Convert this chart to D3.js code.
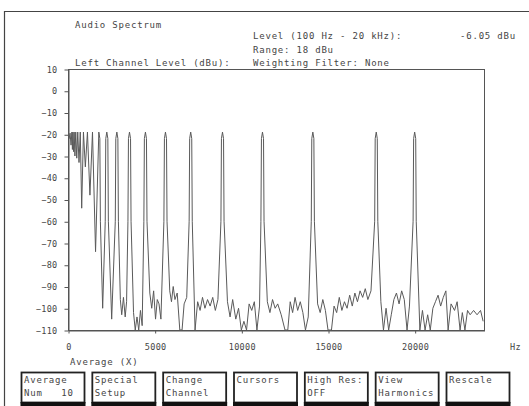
<!DOCTYPE html>
<html>
<head>
<meta charset="utf-8">
<script src="https://cdn.jsdelivr.net/npm/d3@7"></script>
<style>
  html, body { margin: 0; padding: 0; background: #fff; }
  svg { display: block; }
  text { font-family: "DejaVu Sans Mono", "Liberation Mono", monospace; fill: #454545; white-space: pre; }
</style>
</head>
<body>
<svg id="chart" width="529" height="406"></svg>
<script>
// Spectrum trace: frequency (Hz) and level (dBu)
const traceHz = [
  0, 60, 120, 175, 224, 255, 282, 320, 355, 400, 447, 505, 562, 635, 708, 790, 891, 1000, 1122, 1265, 1413, 1590,
  1778, 1838, 1868, 2000, 2149, 2179,
  2239, 2299, 2329, 2520, 2728, 2758,
  2818, 2878, 2908, 3020, 3100, 3200, 3300, 3380, 3458, 3488,
  3548, 3608, 3638, 3780, 3880, 3980, 4080, 4180, 4280, 4377, 4407,
  4467, 4527, 4557, 4720, 4830, 4940, 5050, 5150, 5250, 5360, 5533, 5563,
  5623, 5683, 5713, 5870, 5970, 6070, 6170, 6300, 6450, 6580, 6700, 6850, 6989, 7019,
  7079, 7139, 7169, 7330, 7480, 7620, 7760, 7900, 8050, 8200, 8350, 8500, 8650, 8823, 8853,
  8913, 8973, 9003, 9200, 9350, 9500, 9680, 9840, 10000, 10150, 10300, 10450, 10600, 10750, 10900, 11050, 11130, 11160,
  11220, 11280, 11310, 11500, 11650, 11800, 11950, 12100, 12300, 12520, 12680, 12820, 12960, 13100, 13250, 13400, 13550, 13700, 13860, 14035, 14065,
  14125, 14185, 14215, 14400, 14550, 14700, 14850, 15000, 15200, 15350, 15500, 15650, 15800, 15950, 16100, 16250, 16400, 16550, 16700, 16850, 17000, 17150, 17300, 17480, 17693, 17723,
  17783, 17843, 17873, 18050, 18200, 18350, 18500, 18650, 18800, 18950, 19100, 19250, 19400, 19560, 19700, 19910, 19940,
  20000, 20060, 20090, 20300, 20450, 20600, 20750, 20900, 21050, 21200, 21350, 21500, 21650, 21800, 21930, 22100, 22300, 22450, 22620, 22750, 22900, 23050, 23200, 23400, 23600, 23800, 23950
];
const traceDbu = [
  -18, -22, -19.5, -25, -19, -27, -19, -28, -19, -30, -19, -31, -19, -33, -19, -54, -19, -35, -19, -48, -19, -74,
  -19, -22, -60, -100, -60, -22,
  -19, -22, -60, -105, -60, -22,
  -19, -22, -60, -96, -103, -95, -104, -97, -60, -22,
  -19, -22, -60, -102, -110, -104, -110, -101, -108, -60, -22,
  -19, -22, -60, -93, -100, -92, -105, -96, -98, -105, -60, -22,
  -19, -22, -60, -92, -97, -90, -96, -93, -110, -110, -98, -95, -60, -22,
  -19, -22, -60, -110, -97, -101, -95, -100, -96, -99, -95, -101, -96, -60, -22,
  -19, -22, -60, -97, -104, -96, -105, -100, -110, -106, -110, -98, -101, -97, -110, -99, -60, -22,
  -19, -22, -60, -97, -102, -96, -100, -98, -103, -110, -110, -97, -102, -95, -101, -97, -102, -110, -104, -60, -22,
  -19, -22, -60, -98, -102, -96, -101, -110, -110, -99, -102, -95, -101, -97, -100, -94, -99, -93, -97, -92, -95, -91, -96, -92, -60, -22,
  -19, -22, -60, -97, -110, -100, -110, -103, -96, -93, -98, -92, -96, -110, -99, -60, -22,
  -19, -22, -60, -110, -101, -110, -103, -110, -100, -97, -94, -99, -95, -92, -110, -98, -101, -97, -110, -102, -110, -101, -103, -101, -103, -101, -106
];

// Axis ticks
const yTicks = [10, 0, -10, -20, -30, -40, -50, -60, -70, -80, -90, -100, -110];
const xTicks = [0, 5000, 10000, 15000, 20000];

// Header and footer text
const headerLeft = ["Audio Spectrum", "Left Channel Level (dBu):"];
const headerRight = ["Level (100 Hz - 20 kHz):", "Range: 18 dBu", "Weighting Filter: None"];
const levelReading = "-6.05 dBu";
const footerNote = "Average (X)";
const buttonLabels = [
  ["Average", "Num   10"],
  ["Special", "Setup"],
  ["Change", "Channel"],
  ["Cursors"],
  ["High Res:", "OFF"],
  ["View", "Harmonics"],
  ["Rescale"]
];

const svg = d3.select("#chart");
const W = 529, H = 406;
const plot = { left: 68, top: 69, right: 484, bottom: 330 };

// outer panel border
svg.append("path")
  .attr("d", `M4.5,${H} V11.5 H${W}`)
  .attr("fill", "none").attr("stroke", "#444").attr("stroke-width", 1.2);

const x = d3.scaleLinear().domain([0, 24000]).range([plot.left, plot.right]);
const y = d3.scaleLinear().domain([-110, 10]).range([plot.bottom, plot.top]);

// header text
const fontSize = 9, spacing = 0.8;
function label(g, str, px, py, anchor) {
  return g.append("text").attr("x", px).attr("y", py)
    .attr("font-size", fontSize).attr("letter-spacing", spacing)
    .attr("text-anchor", anchor || "start").text(str);
}
label(svg, headerLeft[0], 75, 28);
label(svg, headerLeft[1], 75, 66);
label(svg, headerRight[0], 253, 39);
label(svg, headerRight[1], 253, 53);
label(svg, headerRight[2], 253, 66);
label(svg, levelReading, 460, 39);

// plot frame
svg.append("rect")
  .attr("x", plot.left + 0.5).attr("y", plot.top + 0.5)
  .attr("width", plot.right - plot.left).attr("height", plot.bottom - plot.top)
  .attr("fill", "none").attr("stroke", "#555").attr("stroke-width", 1);

// y axis
const yAxis = svg.append("g")
  .attr("transform", `translate(${plot.left + 0.5},0.5)`)
  .call(d3.axisLeft(y).tickValues(yTicks).tickSize(4).tickSizeOuter(0).tickPadding(7));
yAxis.select(".domain").attr("stroke", "#555");
yAxis.selectAll(".tick line").attr("stroke", "#555");
yAxis.selectAll(".tick text")
  .attr("font-size", 8.5).attr("letter-spacing", 0.3)
  .attr("font-family", "DejaVu Sans Mono").attr("fill", "#454545");

// x axis
const xAxis = svg.append("g")
  .attr("transform", `translate(0.5,${plot.bottom + 0.5})`)
  .call(d3.axisBottom(x).tickValues(xTicks).tickFormat(d3.format("d")).tickSize(3).tickSizeOuter(0).tickPadding(10));
xAxis.select(".domain").attr("stroke", "#555");
xAxis.selectAll(".tick line").attr("stroke", "#555");
xAxis.selectAll(".tick text")
  .attr("font-size", 8.5).attr("letter-spacing", 0.3)
  .attr("font-family", "DejaVu Sans Mono").attr("fill", "#454545");
svg.append("text").attr("x", 510).attr("y", 350)
  .attr("font-size", 8.5).attr("letter-spacing", 0.3).text("Hz");

// spectrum trace
svg.append("clipPath").attr("id", "plotClip").append("rect")
  .attr("x", plot.left).attr("y", plot.top)
  .attr("width", plot.right - plot.left + 1).attr("height", plot.bottom - plot.top + 1);
const points = traceHz.map((f, i) => [f, traceDbu[i]]);
svg.append("path")
  .datum(points)
  .attr("clip-path", "url(#plotClip)")
  .attr("fill", "none")
  .attr("stroke", "#5a5a5a")
  .attr("stroke-width", 1)
  .attr("stroke-linejoin", "round")
  .attr("d", d3.line().x(d => x(d[0])).y(d => y(d[1])));

// footer
label(svg, footerNote, 70, 365);
const btnW = 63, btnH = 30, btnTop = 372;
const btnX = d3.scaleLinear().domain([0, 6]).range([21, 446]);
const btns = svg.selectAll("g.btn").data(buttonLabels).join("g")
  .attr("class", "btn")
  .attr("transform", (d, i) => `translate(${btnX(i)},${btnTop})`);
btns.append("rect")
  .attr("x", 0.5).attr("y", 0.5).attr("width", btnW).attr("height", btnH)
  .attr("fill", "#fff").attr("stroke", "#222").attr("stroke-width", 1.8);
btns.append("rect")
  .attr("x", -0.5).attr("y", btnH).attr("width", btnW + 2).attr("height", 5)
  .attr("fill", "#111");
btns.each(function(lines) {
  const g = d3.select(this);
  lines.forEach((s, k) => label(g, s, 3, 11 + k * 13));
});
</script>
</body>
</html>
